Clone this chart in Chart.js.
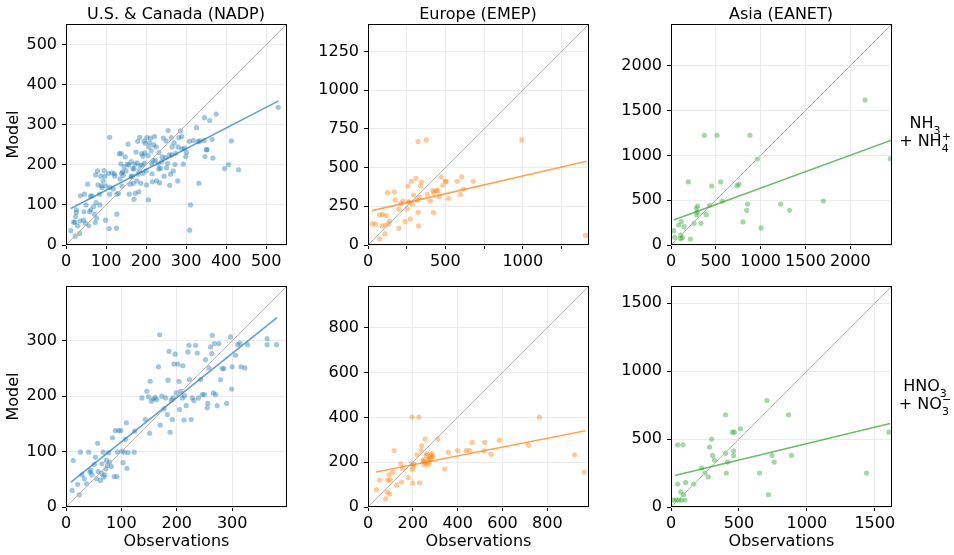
<!DOCTYPE html>
<html>
<head>
<meta charset="utf-8">
<script src="https://cdn.jsdelivr.net/npm/chart.js@4.4.1/dist/chart.umd.min.js"></script>
<style>
  body { margin: 0; background: #fff; }
  #fig { position: relative; width: 954px; height: 555px; font-family: "DejaVu Sans"; color: #000; overflow: hidden; }
  #fig canvas { position: absolute; }
  .title { position: absolute; top: 5px; width: 300px; text-align: center; font-size: 16px; line-height: 18px; }
  .row { position: absolute; left: 893px; width: 64px; text-align: center; font-size: 16px; line-height: 18px; }
  .row sub, .row sup { font-size: 11px; line-height: 0; }
  .row sub { vertical-align: -6px; }
  .row sup { vertical-align: 6px; margin-left: -7px; }
</style>
</head>
<body>
<div id="fig">
  <canvas id="c0" width="295" height="293" style="left:0;top:0"></canvas>
  <canvas id="c1" width="295" height="293" style="left:302px;top:0"></canvas>
  <canvas id="c2" width="295" height="293" style="left:605px;top:0"></canvas>
  <canvas id="c3" width="295" height="293" style="left:0;top:262px"></canvas>
  <canvas id="c4" width="295" height="293" style="left:302px;top:262px"></canvas>
  <canvas id="c5" width="295" height="293" style="left:605px;top:262px"></canvas>
  <div class="title" style="left:26px">U.S. &amp; Canada (NADP)</div>
  <div class="title" style="left:328px">Europe (EMEP)</div>
  <div class="title" style="left:631px">Asia (EANET)</div>
  <div class="row" style="top:114px">NH<sub>3</sub><br>+ NH<sub>4</sub><sup>+</sup></div>
  <div class="row" style="top:377px">HNO<sub>3</sub><br>+ NO<sub>3</sub><sup>&minus;</sup></div>
</div>
<script>
// NHx, U.S. & Canada (NADP)
const nadpNhxObs = [12,19,22,26,26,24,29,34,23,36,46,54,45,44,49,57,59,61,65,69,71,73,76,75,74,79,87,89,84,90,
  95,97,99,100,106,109,109,110,108,121,122,127,126,127,131,133,137,138,139,140,141,143,148,153,155,158,160,163,163,165,
  167,168,170,172,173,175,177,180,179,182,184,185,187,189,192,192,195,196,198,201,202,205,206,209,211,214,215,216,219,221,
  223,226,230,232,234,236,239,243,245,248,251,254,255,259,261,263,264,268,272,274,279,282,286,289,293,296,299,301,308,309,
  311,318,326,330,332,334,345,346,347,351,352,359,365,367,375,396,406,413,431,530,
  145,150,157,170,178,183,190,197,200,207,213,218,225,232,240,250,258,265,270,280,290,62,80,93,115,118,135,35,50,85];
const nadpNhxMod = [36,57,57,81,88,71,48,29,22,123,127,152,83,62,54,48,83,122,123,96,77,56,67,106,175,185,172,148,127,143,
  186,172,62,148,179,127,269,144,41,178,172,77,42,127,129,228,203,228,179,147,183,174,220,202,252,127,152,172,208,171,
  191,154,114,202,129,232,160,177,259,133,269,198,154,228,222,179,260,204,254,150,268,223,113,256,267,203,178,158,250,271,
  212,160,203,231,155,192,208,267,172,218,193,204,286,149,177,268,225,185,201,229,160,268,285,271,202,242,221,231,259,37,
  100,261,293,258,154,260,261,318,221,238,238,311,264,217,327,191,201,260,188,344,
  195,185,200,190,205,185,200,230,185,245,235,210,245,190,220,260,225,245,255,245,240,88,150,160,180,140,165,60,100,100];
const nadpNhxFitX = [12, 531];
const nadpNhxFitY = [91, 360];
const nadpNhxLim = 552;
const nadpNhxTicks = [0, 100, 200, 300, 400, 500];

// NHx, Europe (EMEP)
const emepNhxObs = [28,49,75,75,92,92,110,114,118,127,135,140,170,176,200,200,211,226,239,252,
  258,262,269,273,280,286,295,310,316,323,325,327,333,340,346,376,383,402,419,423,
  426,441,452,462,473,484,499,505,520,576,596,606,617,680,994,1406];
const emepNhxMod = [136,136,39,194,198,123,73,129,190,338,136,153,343,291,108,231,269,284,151,233,
  381,280,274,168,412,265,323,431,291,668,211,123,308,381,407,679,328,284,351,209,
  338,351,351,312,440,386,412,412,302,412,328,440,362,412,679,62];
const emepNhxFitX = [26, 1413];
const emepNhxFitY = [222, 541];
const emepNhxLim = 1428;
const emepNhxXTicks = [0, 250, 500, 750, 1000, 1250];
const emepNhxXLabels = ['0', '', '500', '', '1000', ''];
const emepNhxYTicks = [0, 250, 500, 750, 1000, 1250];

// NHx, Asia (EANET)
const eanetNhxObs = [30,41,86,108,108,115,126,145,193,216,257,283,290,297,290,335,372,394,431,454,
  513,554,572,736,758,803,844,855,881,963,1004,1223,1323,1699,2164,2446];
const eanetNhxMod = [160,86,223,112,71,260,82,204,703,67,242,409,364,435,335,242,1223,338,442,658,
  1223,703,491,662,677,257,387,457,1223,959,190,457,387,491,1617,963];
const eanetNhxFitX = [30, 2465];
const eanetNhxFitY = [279, 1171];
const eanetNhxLim = 2465;
const eanetNhxTicks = [0, 500, 1000, 1500, 2000];

// NOy, U.S. & Canada (NADP)
const nadpNoyObs = [11,13,21,24,26,29,33,37,41,43,45,47,51,53,55,57,58,62,64,65,
  67,68,70,72,73,75,77,79,82,84,87,89,92,93,95,99,101,103,105,107,
  109,110,112,123,124,137,143,146,149,151,152,154,158,161,164,167,169,170,173,177,
  180,183,184,186,188,190,192,193,195,197,199,202,204,205,207,210,211,213,214,217,
  220,222,223,226,228,231,234,237,239,243,246,250,252,255,256,258,261,263,264,266,
  268,270,273,276,279,282,285,290,297,299,300,306,310,314,316,323,328,363,363,380];
const nadpNoyMod = [30,84,41,22,99,58,51,42,99,63,66,58,77,90,51,115,64,48,61,78,
  99,54,58,69,84,75,98,81,73,125,55,138,55,99,138,138,101,80,99,122,
  152,70,98,99,137,197,158,209,199,133,227,191,195,198,194,253,311,148,200,177,
  197,167,229,281,135,193,158,197,258,276,206,258,227,176,209,197,255,157,201,183,
  280,292,230,158,197,192,292,278,197,230,203,203,266,179,187,251,289,277,310,206,
  295,203,183,295,230,250,250,187,307,213,253,274,293,296,253,251,293,304,293,293];
const nadpNoyFitX = [9, 381];
const nadpNoyFitY = [45, 342];
const nadpNoyLim = 399;
const nadpNoyTicks = [0, 100, 200, 300];

// NOy, Europe (EMEP)
const emepNoyObs = [37,52,79,85,88,94,97,99,110,116,128,146,150,154,180,197,197,199,200,218,
  227,230,238,240,248,254,260,263,269,273,279,284,290,312,343,358,400,438,453,465,
  518,521,549,586,716,765,922,965,195,205,245,250,255,265,275,280];
const emepNoyMod = [77,120,36,67,120,143,58,120,156,252,98,193,111,171,131,166,401,107,181,233,
  401,108,251,273,211,303,230,238,211,199,220,238,226,303,169,244,252,252,252,288,
  251,288,236,298,276,401,233,156,195,190,205,190,200,190,215,230];
const emepNoyFitX = [36, 970];
const emepNoyFitY = [156, 340];
const emepNoyLim = 986;
const emepNoyTicks = [0, 200, 400, 600, 800];

// NOy, Asia (EANET)
const eanetNoyObs = [20,39,49,49,56,71,76,88,93,103,108,167,225,250,275,284,299,306,319,402,
  402,407,417,453,466,461,461,512,652,706,718,743,760,865,887,1440,1603];
const eanetNoyMod = [51,51,458,169,51,110,51,458,91,51,181,169,287,250,221,441,500,380,346,679,
  395,250,331,551,551,414,380,576,250,784,91,380,331,679,380,250,551];
const eanetNoyFitX = [29, 1613];
const eanetNoyFitY = [232, 615];
const eanetNoyLim = 1627;
const eanetNoyTicks = [0, 500, 1000, 1500];

const blue = "31,119,180";
const orange = "255,127,14";
const green = "44,160,44";

const tickFont = { family: "DejaVu Sans", size: 16 };

// black box round the plot area, like matplotlib spines
const frame = {
  id: "frame",
  afterDraw(chart) {
    const a = chart.chartArea;
    const ctx = chart.ctx;
    ctx.save();
    ctx.strokeStyle = "#000";
    ctx.lineWidth = 1;
    ctx.strokeRect(a.left + 0.5, a.top + 0.5, a.right - a.left - 1, a.bottom - a.top - 1);
    ctx.restore();
  },
};

function axis(ticks, labels, lim, isX, title) {
  return {
    type: "linear",
    min: 0,
    max: lim,
    afterBuildTicks: (s) => { s.ticks = ticks.map((v) => ({ value: v })); },
    afterFit: (s) => { if (isX) s.height = 48; else s.width = 62; },
    ticks: {
      autoSkip: false,
      maxRotation: 0,
      padding: isX ? 3 : 5,
      color: "#000",
      font: tickFont,
      callback: (v, i) => labels[i],
    },
    grid: {
      color: "#ebebeb",
      tickColor: "#000",
      tickLength: 4,
      drawTicks: true,
    },
    border: { display: false },
    title: {
      display: !!title,
      text: title,
      color: "#000",
      font: tickFont,
      padding: { top: 0, bottom: isX ? 4 : 0 },
    },
  };
}

function drawPanel(id, obs, mod, fitX, fitY, lim, xTicks, xLabels, yTicks, yLabels, color, xTitle, yTitle) {
  new Chart(document.getElementById(id), {
    type: "scatter",
    data: {
      datasets: [
        {
          type: "line",
          data: fitX.map((x, i) => ({ x: x, y: fitY[i] })),
          borderColor: `rgba(${color},0.7)`,
          borderWidth: 1.6,
          pointRadius: 0,
          order: 0,
        },
        {
          type: "line",
          data: [{ x: 0, y: 0 }, { x: lim, y: lim }],
          borderColor: "#b4b4b4",
          borderWidth: 1,
          pointRadius: 0,
          order: 1,
        },
        {
          data: obs.map((x, i) => ({ x: x, y: mod[i] })),
          backgroundColor: `rgba(${color},0.42)`,
          borderWidth: 0,
          pointRadius: 2.6,
          order: 2,
        },
      ],
    },
    options: {
      responsive: false,
      animation: false,
      layout: { padding: { left: 4, top: 24, right: 8, bottom: 0 } },
      plugins: { legend: { display: false }, tooltip: { enabled: false } },
      scales: {
        x: axis(xTicks, xLabels, lim, true, xTitle),
        y: axis(yTicks, yLabels, lim, false, yTitle),
      },
    },
    plugins: [frame],
  });
}

const str = (a) => a.map(String);

drawPanel("c0", nadpNhxObs, nadpNhxMod, nadpNhxFitX, nadpNhxFitY, nadpNhxLim,
  nadpNhxTicks, str(nadpNhxTicks), nadpNhxTicks, str(nadpNhxTicks), blue, "", "Model");
drawPanel("c1", emepNhxObs, emepNhxMod, emepNhxFitX, emepNhxFitY, emepNhxLim,
  emepNhxXTicks, emepNhxXLabels, emepNhxYTicks, str(emepNhxYTicks), orange, "", "");
drawPanel("c2", eanetNhxObs, eanetNhxMod, eanetNhxFitX, eanetNhxFitY, eanetNhxLim,
  eanetNhxTicks, str(eanetNhxTicks), eanetNhxTicks, str(eanetNhxTicks), green, "", "");
drawPanel("c3", nadpNoyObs, nadpNoyMod, nadpNoyFitX, nadpNoyFitY, nadpNoyLim,
  nadpNoyTicks, str(nadpNoyTicks), nadpNoyTicks, str(nadpNoyTicks), blue, "Observations", "Model");
drawPanel("c4", emepNoyObs, emepNoyMod, emepNoyFitX, emepNoyFitY, emepNoyLim,
  emepNoyTicks, str(emepNoyTicks), emepNoyTicks, str(emepNoyTicks), orange, "Observations", "");
drawPanel("c5", eanetNoyObs, eanetNoyMod, eanetNoyFitX, eanetNoyFitY, eanetNoyLim,
  eanetNoyTicks, str(eanetNoyTicks), eanetNoyTicks, str(eanetNoyTicks), green, "Observations", "");
</script>
</body>
</html>
